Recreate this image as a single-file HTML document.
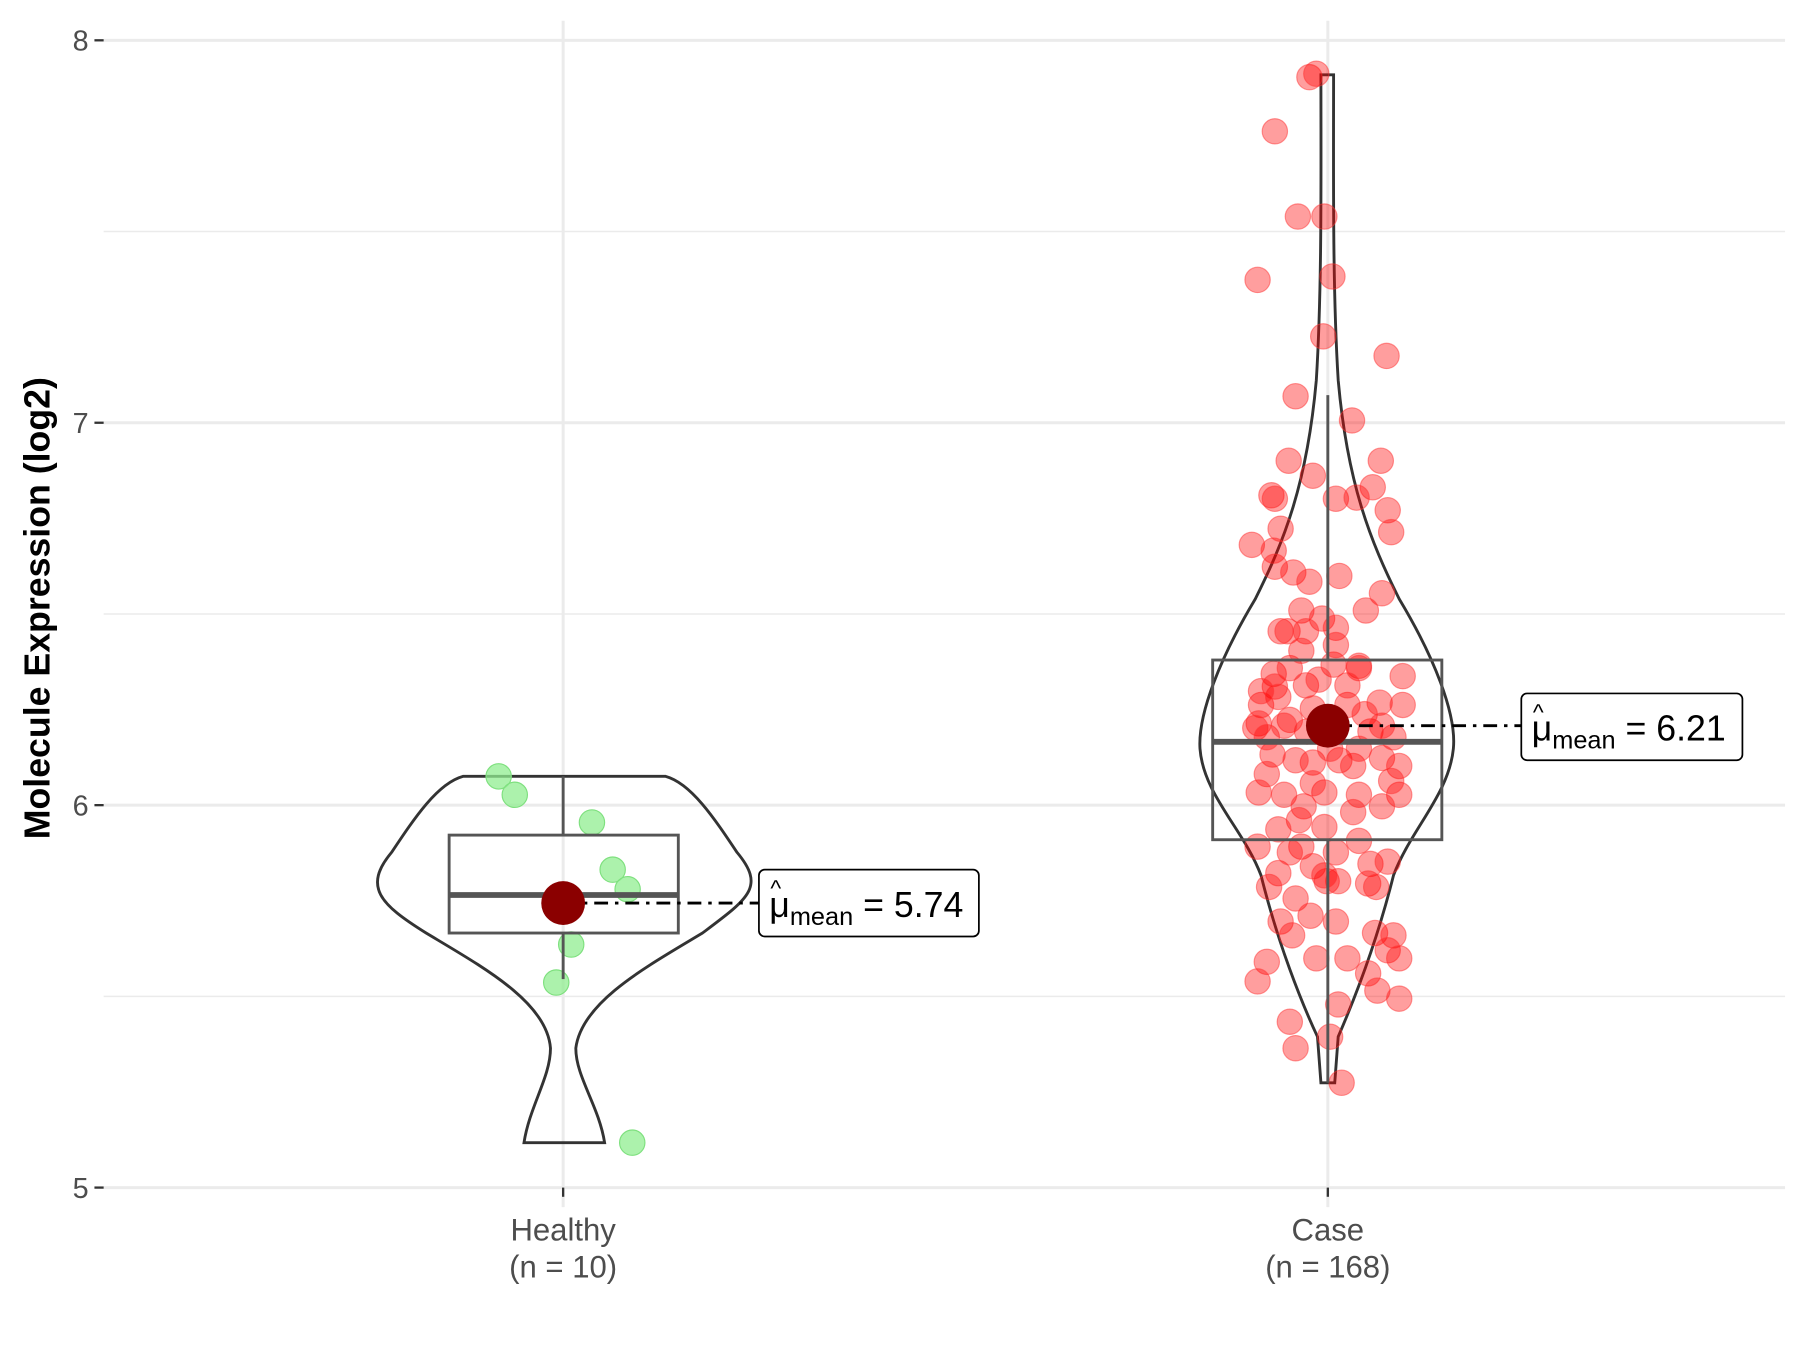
<!DOCTYPE html>
<html><head><meta charset="utf-8"><style>
html,body{margin:0;padding:0;background:#fff;}
svg{display:block;}
text{font-family:"Liberation Sans",sans-serif;}
</style></head><body>
<svg width="1800" height="1350" viewBox="0 0 1563 1172" preserveAspectRatio="none" xmlns="http://www.w3.org/2000/svg">
<rect width="1563" height="1172" fill="#fff"/>
<g stroke="#ebebeb">
<line x1="90" x2="1550" y1="201" y2="201" stroke-width="1.3"/>
<line x1="90" x2="1550" y1="533" y2="533" stroke-width="1.3"/>
<line x1="90" x2="1550" y1="865" y2="865" stroke-width="1.3"/>
<line x1="90" x2="1550" y1="35" y2="35" stroke-width="2.6"/>
<line x1="90" x2="1550" y1="367" y2="367" stroke-width="2.6"/>
<line x1="90" x2="1550" y1="699" y2="699" stroke-width="2.6"/>
<line x1="90" x2="1550" y1="1031" y2="1031" stroke-width="2.6"/>
<line x1="489" x2="489" y1="18" y2="1048" stroke-width="2.6"/>
<line x1="1153" x2="1153" y1="18" y2="1048" stroke-width="2.6"/>
</g>
<g stroke="#333" stroke-width="2">
<line x1="82" x2="90" y1="35" y2="35"/><line x1="82" x2="90" y1="367" y2="367"/>
<line x1="82" x2="90" y1="699" y2="699"/><line x1="82" x2="90" y1="1031" y2="1031"/>
<line x1="489" x2="489" y1="1031" y2="1039"/><line x1="1153" x2="1153" y1="1031" y2="1039"/>
</g>
<g font-size="25" fill="#4d4d4d" text-anchor="end">
<text x="77" y="44">8</text><text x="77" y="376">7</text><text x="77" y="708">6</text><text x="77" y="1040">5</text>
</g>
<g font-size="27" fill="#4d4d4d" text-anchor="middle">
<text x="489" y="1077">Healthy</text><text x="489" y="1109">(n = 10)</text>
<text x="1153" y="1077">Case</text><text x="1153" y="1109">(n = 168)</text>
</g>
<text transform="translate(43,528) rotate(-90)" font-size="31" font-weight="bold" text-anchor="middle" fill="#000">Molecule Expression (log2)</text>

<path d="M455,992 L525,992 C520,960 500,935 500,910 C505,870 560,840 610,810 C650,780 665,770 640,740 C620,710 600,680 578,674 L402,674 C380,680 360,710 340,740 C315,770 330,785 370,810 C420,840 475,870 478,910 C478,935 460,960 455,992 Z" fill="none" stroke="#333" stroke-width="2.5"/>
<path d="M1147,65 L1158,65 C1158,150 1157,250 1162,330 C1170,420 1190,470 1215,520 C1245,570 1265,620 1262,650 C1258,690 1225,720 1210,760 C1195,820 1175,870 1162,900 L1159,940 L1147,940 L1144,900 C1130,870 1110,820 1095,760 C1080,720 1045,690 1042,650 C1040,620 1060,570 1090,520 C1115,470 1135,420 1143,330 C1148,250 1147,150 1147,65 Z" fill="none" stroke="#333" stroke-width="2.5"/>

<g fill="#90ee90" fill-opacity="0.75" stroke="#7ee07e" stroke-width="1">
<circle cx="433" cy="674" r="11"/><circle cx="447" cy="690" r="11"/><circle cx="514" cy="714" r="11"/><circle cx="532" cy="755" r="11"/><circle cx="545" cy="772" r="11"/><circle cx="496" cy="820" r="11"/><circle cx="483" cy="853" r="11"/><circle cx="549" cy="992" r="11"/>
</g>
<g fill="#ff0000" fill-opacity="0.38" stroke="#ff3333" stroke-opacity="0.5" stroke-width="1">
<circle cx="1137" cy="67" r="11"/><circle cx="1143" cy="64" r="11"/><circle cx="1107" cy="114" r="11"/><circle cx="1127" cy="188" r="11"/><circle cx="1150" cy="188" r="11"/><circle cx="1157" cy="240" r="11"/><circle cx="1092" cy="243" r="11"/><circle cx="1149" cy="292" r="11"/><circle cx="1204" cy="309" r="11"/><circle cx="1125" cy="344" r="11"/><circle cx="1174" cy="365" r="11"/><circle cx="1119" cy="400" r="11"/><circle cx="1199" cy="400" r="11"/><circle cx="1140" cy="413" r="11"/><circle cx="1104" cy="430" r="11"/><circle cx="1107" cy="433" r="11"/><circle cx="1160" cy="433" r="11"/><circle cx="1192" cy="423" r="11"/><circle cx="1178" cy="432" r="11"/><circle cx="1205" cy="443" r="11"/><circle cx="1112" cy="459" r="11"/><circle cx="1208" cy="462" r="11"/><circle cx="1087" cy="473" r="11"/><circle cx="1106" cy="478" r="11"/><circle cx="1107" cy="492" r="11"/><circle cx="1123" cy="497" r="11"/><circle cx="1137" cy="505" r="11"/><circle cx="1163" cy="500" r="11"/><circle cx="1200" cy="515" r="11"/><circle cx="1186" cy="530" r="11"/><circle cx="1130" cy="530" r="11"/><circle cx="1148" cy="537" r="11"/><circle cx="1112" cy="548" r="11"/><circle cx="1118" cy="548" r="11"/><circle cx="1134" cy="548" r="11"/><circle cx="1160" cy="545" r="11"/><circle cx="1180" cy="578" r="11"/><circle cx="1158" cy="577" r="11"/><circle cx="1106" cy="585" r="11"/><circle cx="1120" cy="580" r="11"/><circle cx="1134" cy="595" r="11"/><circle cx="1107" cy="596" r="11"/><circle cx="1095" cy="612" r="11"/><circle cx="1180" cy="580" r="11"/><circle cx="1218" cy="587" r="11"/><circle cx="1198" cy="610" r="11"/><circle cx="1218" cy="612" r="11"/><circle cx="1093" cy="628" r="11"/><circle cx="1090" cy="632" r="11"/><circle cx="1120" cy="625" r="11"/><circle cx="1135" cy="635" r="11"/><circle cx="1170" cy="612" r="11"/><circle cx="1190" cy="635" r="11"/><circle cx="1210" cy="640" r="11"/><circle cx="1105" cy="655" r="11"/><circle cx="1163" cy="660" r="11"/><circle cx="1200" cy="658" r="11"/><circle cx="1215" cy="665" r="11"/><circle cx="1100" cy="672" r="11"/><circle cx="1140" cy="662" r="11"/><circle cx="1175" cy="665" r="11"/><circle cx="1215" cy="690" r="11"/><circle cx="1093" cy="688" r="11"/><circle cx="1115" cy="690" r="11"/><circle cx="1132" cy="700" r="11"/><circle cx="1150" cy="688" r="11"/><circle cx="1180" cy="690" r="11"/><circle cx="1208" cy="678" r="11"/><circle cx="1128" cy="712" r="11"/><circle cx="1150" cy="718" r="11"/><circle cx="1175" cy="705" r="11"/><circle cx="1110" cy="720" r="11"/><circle cx="1092" cy="735" r="11"/><circle cx="1130" cy="735" r="11"/><circle cx="1160" cy="740" r="11"/><circle cx="1180" cy="730" r="11"/><circle cx="1110" cy="758" r="11"/><circle cx="1140" cy="752" r="11"/><circle cx="1152" cy="765" r="11"/><circle cx="1190" cy="750" r="11"/><circle cx="1205" cy="748" r="11"/><circle cx="1102" cy="770" r="11"/><circle cx="1125" cy="780" r="11"/><circle cx="1162" cy="765" r="11"/><circle cx="1188" cy="767" r="11"/><circle cx="1195" cy="770" r="11"/><circle cx="1138" cy="795" r="11"/><circle cx="1112" cy="800" r="11"/><circle cx="1160" cy="800" r="11"/><circle cx="1122" cy="812" r="11"/><circle cx="1194" cy="810" r="11"/><circle cx="1210" cy="812" r="11"/><circle cx="1205" cy="825" r="11"/><circle cx="1100" cy="835" r="11"/><circle cx="1143" cy="832" r="11"/><circle cx="1170" cy="832" r="11"/><circle cx="1215" cy="832" r="11"/><circle cx="1092" cy="852" r="11"/><circle cx="1188" cy="845" r="11"/><circle cx="1196" cy="860" r="11"/><circle cx="1215" cy="867" r="11"/><circle cx="1162" cy="872" r="11"/><circle cx="1120" cy="887" r="11"/><circle cx="1155" cy="900" r="11"/><circle cx="1125" cy="910" r="11"/><circle cx="1165" cy="940" r="11"/><circle cx="1100" cy="640" r="11"/><circle cx="1110" cy="605" r="11"/><circle cx="1140" cy="615" r="11"/><circle cx="1155" cy="650" r="11"/><circle cx="1185" cy="620" r="11"/><circle cx="1125" cy="660" r="11"/><circle cx="1200" cy="630" r="11"/><circle cx="1145" cy="590" r="11"/><circle cx="1170" cy="595" r="11"/><circle cx="1095" cy="600" r="11"/><circle cx="1180" cy="650" r="11"/><circle cx="1140" cy="680" r="11"/><circle cx="1200" cy="700" r="11"/><circle cx="1120" cy="740" r="11"/><circle cx="1150" cy="760" r="11"/><circle cx="1160" cy="560" r="11"/><circle cx="1130" cy="565" r="11"/><circle cx="1115" cy="630" r="11"/>
</g>

<g stroke="#555" fill="none" stroke-width="2.5">
<line x1="489" x2="489" y1="674" y2="725"/><line x1="489" x2="489" y1="810" y2="850"/>
<rect x="390" y="725" width="199" height="85"/>
<line x1="390" x2="589" y1="777" y2="777" stroke-width="5"/>
<line x1="1153" x2="1153" y1="343" y2="573"/><line x1="1153" x2="1153" y1="729" y2="940"/>
<rect x="1053" y="573" width="199" height="156"/>
<line x1="1053" x2="1252" y1="644" y2="644" stroke-width="5"/>
</g>

<g stroke="#000" stroke-width="2.5" stroke-dasharray="12,6,3,6">
<line x1="489" x2="659" y1="784" y2="784"/>
<line x1="1153" x2="1321" y1="630" y2="630"/>
</g>
<circle cx="489" cy="784" r="19" fill="#8b0000"/>
<circle cx="1153" cy="630" r="19" fill="#8b0000"/>

<rect x="659" y="755" width="191" height="58" rx="5" fill="#fff" stroke="#000" stroke-width="1.5"/>
<text x="668" y="796" font-size="31" fill="#000">μ<tspan font-size="22" dy="7">mean</tspan><tspan dy="-7"> = 5.74</tspan></text>
<text x="669" y="778" font-size="20" fill="#000">^</text>
<rect x="1321" y="602" width="192" height="58" rx="5" fill="#fff" stroke="#000" stroke-width="1.5"/>
<text x="1330" y="643" font-size="31" fill="#000">μ<tspan font-size="22" dy="7">mean</tspan><tspan dy="-7"> = 6.21</tspan></text>
<text x="1331" y="625" font-size="20" fill="#000">^</text>
</svg>
</body></html>
